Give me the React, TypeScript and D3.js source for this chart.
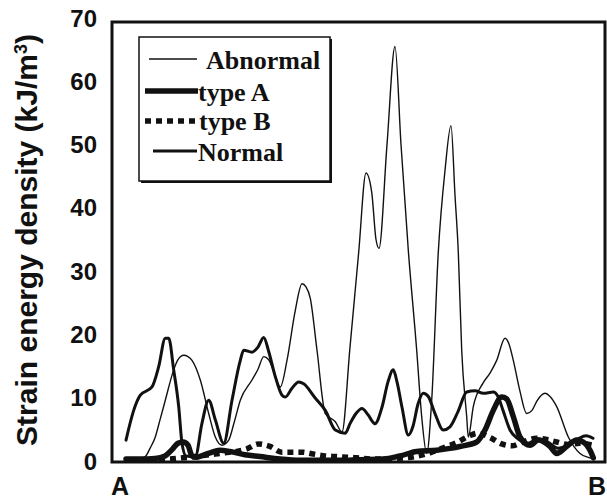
import React from "react";
import * as d3 from "d3";

// Position along the A–B path (0..468) and strain energy density (kJ/m^3)
const normalPos = [0, 7.7, 14.3, 26, 32.7, 39.3, 42.7, 47.7, 52.7, 56, 60, 69.3, 76, 82.7, 89.3, 97.7, 106, 114.3, 117.7, 126, 132, 137.7, 142.7, 149, 156, 159.3, 166, 172.7, 177.7, 189, 199.3, 209.3, 219.3, 224, 230, 236, 242, 249, 256, 262, 267.3, 271, 276, 282.3, 287, 292, 297.3, 302.3, 309, 317.3, 324, 332, 340.7, 349, 357.3, 367.3, 372, 377, 384, 392, 402, 412, 422, 432, 442, 452, 460, 467];
const normalVal = [3.3, 8.0, 10.4, 11.7, 14.9, 19.4, 19.4, 14.4, 8.6, 2.8, 0.8, 0.7, 6.0, 9.6, 6.5, 2.8, 9.6, 15.9, 17.5, 17.2, 18.0, 19.5, 17.3, 13.5, 10.4, 10.1, 11.5, 12.5, 12.2, 10.0, 8.0, 4.9, 4.4, 5.9, 7.5, 8.3, 7.3, 5.9, 8.5, 12.5, 14.4, 12.5, 8.5, 4.1, 5.5, 9.0, 10.7, 10.2, 7.5, 4.9, 5.4, 7.8, 10.9, 11.1, 10.7, 10.9, 10.2, 8.0, 4.9, 3.5, 2.8, 3.5, 3.0, 2.0, 2.5, 3.5, 4.0, 3.6];

const abnormalPos = [0, 9, 19.3, 24, 29.3, 34, 39.3, 47.7, 52, 57.7, 62, 66, 74.3, 82.7, 89.3, 96, 102.7, 108, 114.3, 126, 132, 137.7, 142.7, 148, 154.3, 161, 169.3, 176, 180, 184.3, 191, 199.3, 209.3, 216, 224, 232.7, 240, 245.7, 250, 253, 261, 269, 275, 282.3, 290.7, 295.7, 300.7, 305.7, 312.3, 319, 325, 329, 332.3, 335.7, 340.7, 342.3, 347.3, 357, 364, 370.7, 379, 383, 387.3, 394, 400.7, 406, 411, 419, 424, 430.7, 442.3, 454, 464, 468];
const abnormalVal = [0.1, 0.1, 0.7, 2.0, 3.8, 6.5, 9.6, 14.4, 16, 16.7, 16.5, 15.9, 12.8, 7.5, 3.8, 2.5, 3.3, 6, 9.6, 12.8, 14.5, 16.5, 16, 14, 11.7, 15.9, 23.8, 28.0, 27.5, 25.7, 17.5, 7.5, 6.2, 4.6, 18, 33, 45.5, 42.5, 35, 33.6, 50, 65.5, 50, 33.3, 17.5, 7, 1.2, 9.6, 33, 45.9, 53, 42, 33, 17.5, 7, 3.8, 8.6, 12.3, 13.9, 15.9, 19.4, 18.5, 15.9, 11, 7.5, 8, 9.5, 10.7, 10.2, 8.6, 3.8, 1.2, 0.5, 0.3];

const typeAPos = [0, 14, 29, 39, 46, 52, 57, 62, 66, 71, 77, 84, 94, 104, 119, 134, 154, 174, 194, 214, 234, 257, 274, 290.7, 310.7, 324, 334, 350.7, 359, 367.3, 375.7, 380.7, 387.3, 394, 404, 412.3, 424, 430.7, 440.7, 450.7, 457.3, 464, 467.3];
const typeAVal = [0.3, 0.3, 0.4, 0.8, 1.8, 2.8, 3.0, 2.5, 0.8, 0.6, 0.9, 1.3, 1.7, 1.5, 1.0, 0.7, 0.3, 0.1, 0.1, 0.1, 0.2, 0.3, 0.8, 1.5, 1.7, 2.0, 2.3, 3.0, 4.9, 8.0, 10.1, 9.8, 7.0, 3.8, 2.5, 3.3, 2.3, 1.2, 2.3, 3.3, 3.0, 1.7, 0.5];

const typeBPos = [0, 24, 44, 57, 69, 84, 99, 110.7, 120.7, 132.3, 144, 155.7, 165.7, 175.7, 187.3, 199, 210.7, 220.7, 230.7, 249, 269, 289, 304, 320.7, 330.7, 342.3, 352.3, 364, 375.7, 385.7, 397, 410.7, 420.7, 430.7, 442, 454, 467];
const typeBVal = [0.2, 0.2, 0.3, 0.5, 0.7, 1.0, 1.3, 1.5, 1.9, 2.7, 2.3, 1.4, 1.4, 1.4, 1.1, 0.8, 0.7, 0.6, 0.5, 0.3, 0.4, 0.7, 1.3, 2.3, 2.9, 3.9, 4.4, 3.7, 2.7, 2.4, 3.0, 3.6, 3.4, 3.0, 2.6, 2.8, 2.5];

const yTicks = [0, 10, 20, 30, 40, 50, 60, 70];
const legendNames = ["Abnormal", "type A", "type B", "Normal"];
const endLabels = ["A", "B"];

const W = 607;
const H = 499;

type Style = { width: number; dash?: string };
const styles: Record<string, Style> = {
  Abnormal: { width: 1.4 },
  "type A": { width: 5.5 },
  "type B": { width: 5.5, dash: "6 5" },
  Normal: { width: 3 },
};

export default function App() {
  const frame = { left: 112, top: 22, right: 605, bottom: 462 };
  const x = d3.scaleLinear().domain([0, 468]).range([126, 594]);
  const y = d3.scaleLinear().domain([0, 70]).range([461, 18]);

  const series: { name: string; pos: number[]; val: number[] }[] = [
    { name: "Abnormal", pos: abnormalPos, val: abnormalVal },
    { name: "type B", pos: typeBPos, val: typeBVal },
    { name: "Normal", pos: normalPos, val: normalVal },
    { name: "type A", pos: typeAPos, val: typeAVal },
  ];

  const line = d3
    .line<[number, number]>()
    .x((d) => x(d[0]))
    .y((d) => y(d[1]))
    .curve(d3.curveMonotoneX);

  const legendRows = [
    { y: 59, x1: 149, x2: 197, tx: 206, ty: 69 },
    { y: 91, x1: 145, x2: 198, tx: 198, ty: 101 },
    { y: 121, x1: 145, x2: 197, tx: 199, ty: 130 },
    { y: 151, x1: 153, x2: 197, tx: 198, ty: 161 },
  ];

  return (
    <svg
      width={W}
      height={H}
      style={{ position: "absolute", left: 0, top: 0, background: "#fff" }}
    >
      <rect x={0} y={0} width={W} height={H} fill="#fff" />
      {/* y tick labels */}
      {yTicks.map((t) => (
        <text
          key={t}
          x={97}
          y={y(t)}
          dy="0.36em"
          textAnchor="end"
          fontFamily="Liberation Sans, Arial, sans-serif"
          fontWeight="bold"
          fontSize={24}
          fill="#111"
        >
          {t}
        </text>
      ))}
      {/* y axis title */}
      <text
        transform={`translate(37, ${(frame.top + frame.bottom) / 2 - 2}) rotate(-90)`}
        textAnchor="middle"
        fontFamily="Liberation Sans, Arial, sans-serif"
        fontWeight="bold"
        fontSize={30}
        fill="#111"
      >
        Strain energy density (kJ/m
        <tspan baselineShift="super" fontSize={18}>
          3
        </tspan>
        )
      </text>
      {/* A / B labels */}
      <text
        x={x(0) - 6}
        y={495}
        textAnchor="middle"
        fontFamily="Liberation Sans, Arial, sans-serif"
        fontWeight="bold"
        fontSize={25}
        fill="#111"
      >
        {endLabels[0]}
      </text>
      <text
        x={W - 1}
        y={495}
        textAnchor="end"
        fontFamily="Liberation Sans, Arial, sans-serif"
        fontWeight="bold"
        fontSize={25}
        fill="#111"
      >
        {endLabels[1]}
      </text>
      {/* series */}
      {series.map((s) => {
        const pts: [number, number][] = s.pos.map((p, i) => [p, s.val[i]]);
        const st = styles[s.name];
        return (
          <path
            key={s.name}
            d={line(pts) || ""}
            fill="none"
            stroke="#111"
            strokeWidth={st.width}
            strokeDasharray={st.dash}
            strokeLinejoin="round"
            strokeLinecap={st.dash ? "butt" : "round"}
          />
        );
      })}
      {/* frame */}
      <rect
        x={frame.left}
        y={frame.top}
        width={frame.right - frame.left}
        height={frame.bottom - frame.top}
        fill="none"
        stroke="#111"
        strokeWidth={3}
      />
      {/* legend */}
      <rect x={141} y={39} width={191} height={144} fill="#111" />
      <rect x={139} y={37} width={191} height={144} fill="#fff" stroke="#111" strokeWidth={1.5} />
      {legendNames.map((n, i) => {
        const r = legendRows[i];
        const st = styles[n];
        return (
          <g key={n}>
            <line
              x1={r.x1}
              x2={r.x2}
              y1={r.y}
              y2={r.y}
              stroke="#111"
              strokeWidth={st.width}
              strokeDasharray={st.dash}
            />
            <text
              x={r.tx}
              y={r.ty}
              fontFamily="Liberation Serif, Times New Roman, serif"
              fontWeight="bold"
              fontSize={26}
              fill="#111"
            >
              {n}
            </text>
          </g>
        );
      })}
    </svg>
  );
}
